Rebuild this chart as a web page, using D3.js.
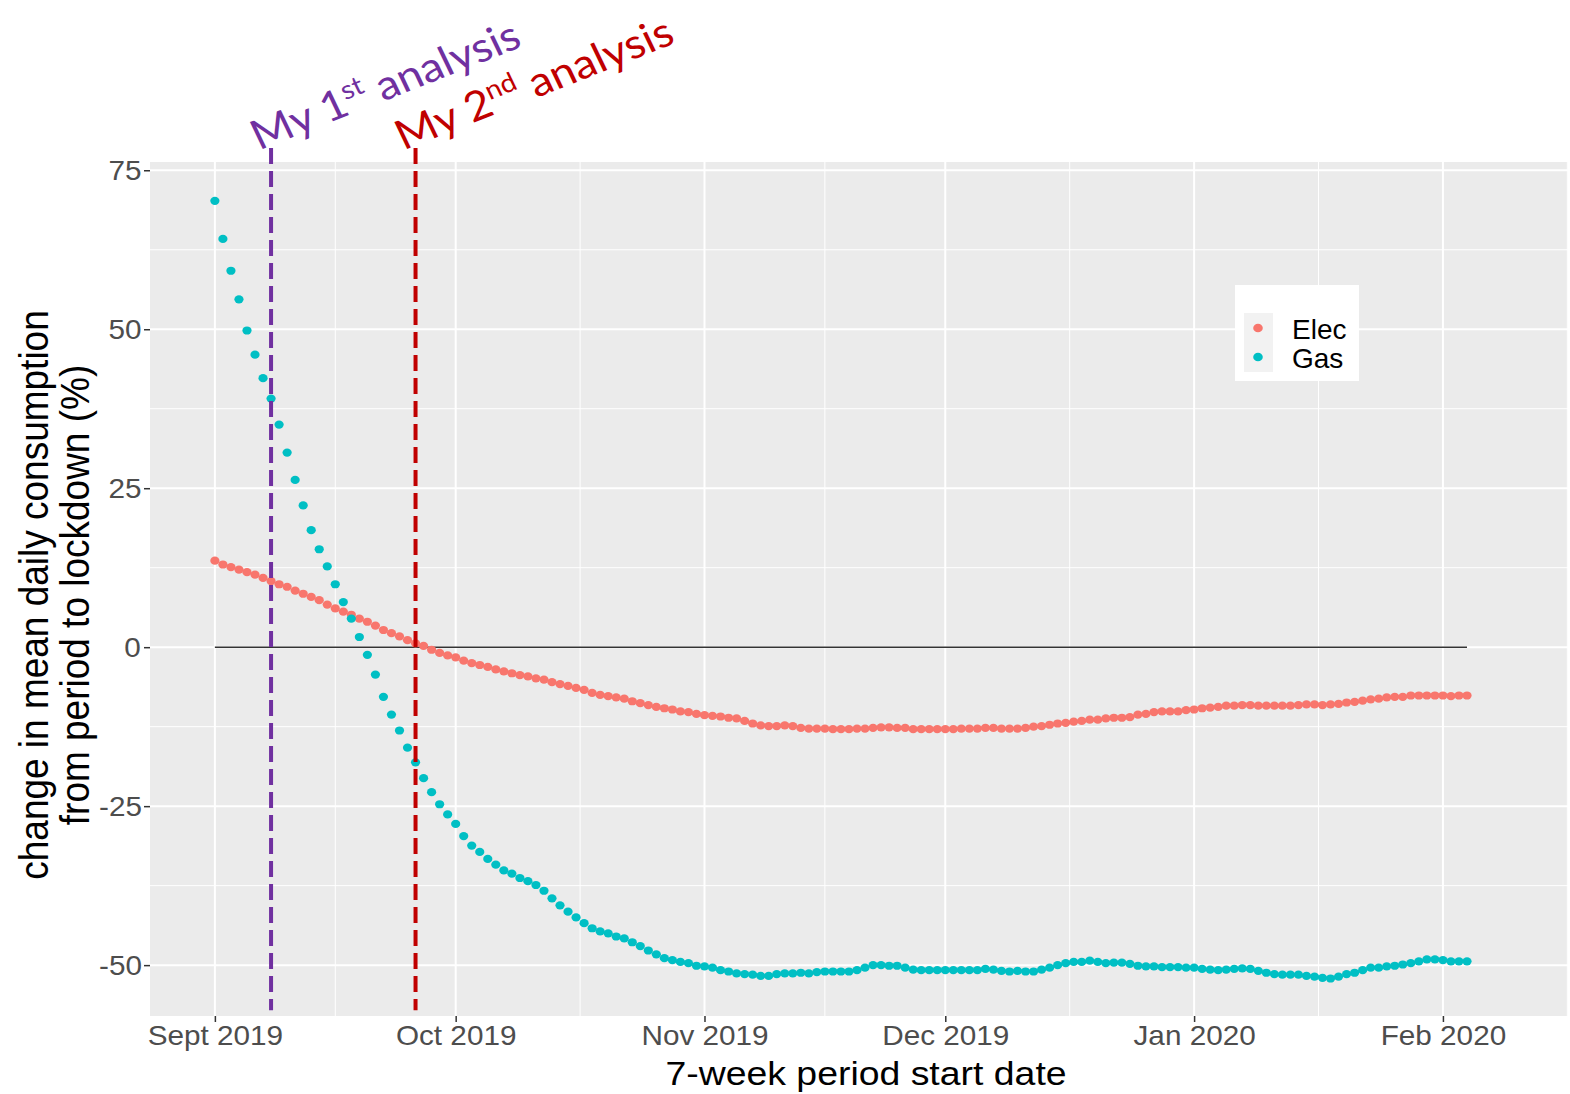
<!DOCTYPE html>
<html>
<head>
<meta charset="utf-8">
<script src="https://d3js.org/d3.v7.min.js"></script>
<style>
  body { margin: 0; background: #fff; }
  text { font-family: "Liberation Sans", Arial, sans-serif; }
  .wide { transform-box: fill-box; transform-origin: center; transform: scaleX(1.1); }
</style>
</head>
<body>
<div id="chart"></div>
<script>
// daily points, first one on 1 Sept 2019
const startDate = "2019-09-01";

const elec = [13.6, 13.0, 12.6, 12.2, 11.8, 11.4, 10.9, 10.4, 9.9, 9.5,
  8.9, 8.4, 7.9, 7.4, 6.7, 6.1, 5.6, 5.1, 4.5, 4.0,
  3.4, 2.7, 2.2, 1.7, 1.1, 0.6, 0.2, -0.4, -0.9, -1.3,
  -1.6, -2.1, -2.5, -2.8, -3.1, -3.5, -3.8, -4.1, -4.4, -4.6,
  -4.9, -5.1, -5.5, -5.8, -6.1, -6.4, -6.7, -7.2, -7.5, -7.7,
  -7.9, -8.1, -8.5, -8.8, -9.1, -9.4, -9.6, -9.8, -10.1, -10.2,
  -10.5, -10.7, -10.8, -10.9, -11.1, -11.2, -11.6, -12.0, -12.3, -12.4,
  -12.4, -12.3, -12.4, -12.7, -12.8, -12.8, -12.8, -12.9, -12.9, -12.9,
  -12.8, -12.8, -12.7, -12.6, -12.6, -12.7, -12.7, -12.9, -12.9, -12.9,
  -12.9, -12.9, -12.9, -12.8, -12.8, -12.8, -12.7, -12.7, -12.8, -12.8,
  -12.8, -12.7, -12.5, -12.4, -12.2, -12.0, -11.9, -11.7, -11.6, -11.4,
  -11.4, -11.2, -11.1, -11.1, -11.0, -10.6, -10.5, -10.2, -10.1, -10.1,
  -10.1, -9.9, -9.8, -9.6, -9.5, -9.4, -9.2, -9.2, -9.1, -9.1,
  -9.2, -9.2, -9.2, -9.2, -9.2, -9.1, -9.0, -9.0, -9.1, -9.0,
  -8.9, -8.7, -8.6, -8.4, -8.2, -8.1, -7.9, -7.8, -7.8, -7.6,
  -7.6, -7.6, -7.6, -7.6, -7.7, -7.6, -7.6];

const gas = [70.2, 64.2, 59.2, 54.7, 49.8, 46.0, 42.3, 39.1, 35.0, 30.6,
  26.3, 22.3, 18.4, 15.4, 12.7, 9.9, 7.1, 4.5, 1.6, -1.2,
  -4.3, -7.8, -10.6, -13.1, -15.8, -18.1, -20.6, -22.8, -24.7, -26.3,
  -27.8, -29.7, -31.2, -32.2, -33.3, -34.2, -35.1, -35.6, -36.3, -36.8,
  -37.4, -38.3, -39.5, -40.6, -41.6, -42.5, -43.4, -44.2, -44.7, -45.0,
  -45.5, -45.8, -46.4, -47.0, -47.7, -48.3, -48.9, -49.2, -49.5, -49.7,
  -50.1, -50.2, -50.4, -50.8, -51.0, -51.3, -51.4, -51.5, -51.7, -51.7,
  -51.4, -51.3, -51.3, -51.2, -51.3, -51.1, -51.0, -51.0, -51.0, -51.0,
  -50.8, -50.4, -50.0, -50.0, -50.1, -50.1, -50.4, -50.7, -50.8, -50.8,
  -50.8, -50.8, -50.8, -50.8, -50.8, -50.8, -50.6, -50.7, -50.9, -51.0,
  -50.9, -51.0, -51.0, -50.7, -50.4, -50.0, -49.7, -49.5, -49.5, -49.3,
  -49.5, -49.7, -49.6, -49.6, -49.8, -50.1, -50.2, -50.2, -50.3, -50.3,
  -50.3, -50.4, -50.4, -50.6, -50.7, -50.8, -50.7, -50.6, -50.5, -50.6,
  -50.9, -51.2, -51.4, -51.5, -51.5, -51.5, -51.7, -51.8, -52.0, -52.1,
  -51.8, -51.4, -51.2, -50.8, -50.4, -50.4, -50.2, -50.1, -49.9, -49.7,
  -49.4, -49.1, -49.1, -49.2, -49.4, -49.4, -49.4];

const monthTicks = ["2019-09-01", "2019-10-01", "2019-11-01", "2019-12-01", "2020-01-01", "2020-02-01"];
const monthLabels = ["Sept 2019", "Oct 2019", "Nov 2019", "Dec 2019", "Jan 2020", "Feb 2020"];
const yTicks = [-50, -25, 0, 25, 50, 75];

const seriesNames = ["Elec", "Gas"];
const seriesColors = ["#F8766D", "#00BFC4"];

const analysisDates = ["2019-09-08", "2019-09-26"];
const analysisOrdinals = ["1", "2"];
const analysisSuffix = ["st", "nd"];
const analysisColors = ["#7030A0", "#C00000"];

const W = 1570, H = 1094;
const margin = {top: 162, right: 2, bottom: 78, left: 150};
const width = W - margin.left - margin.right,
      height = H - margin.top - margin.bottom;

const parse = d3.utcParse("%Y-%m-%d");
const start = parse(startDate);
const days = elec.map((v, i) => d3.utcDay.offset(start, i));

const svg = d3.select("#chart").append("svg")
  .attr("width", W).attr("height", H);
const g = svg.append("g")
  .attr("transform", `translate(${margin.left},${margin.top})`);

// x: scale time, padded like ggplot
const x = d3.scaleUtc()
  .domain([d3.utcHour.offset(start, -194), d3.utcHour.offset(start, 4046)])
  .range([0, width]);
const y = d3.scaleLinear().domain([-58.0, 76.3]).range([height, 0]);

// panel
g.append("rect").attr("width", width).attr("height", height).attr("fill", "#EBEBEB");

const majorX = monthTicks.map(parse);
const minorX = [];
for (let i = 0; i < majorX.length; i++) {
  const a = majorX[i];
  const b = i < majorX.length - 1 ? majorX[i + 1] : new Date(+a + (a - majorX[i - 1]));
  minorX.push(new Date((+a + +b) / 2));
}
const minorY = d3.range(-62.5, 76, 12.5).filter(v => yTicks.indexOf(v) < 0);

const grid = g.append("g");
grid.selectAll(".mny").data(minorY).join("line")
  .attr("x1", 0).attr("x2", width)
  .attr("y1", d => y(d)).attr("y2", d => y(d))
  .attr("stroke", "#fff").attr("stroke-width", 1);
grid.selectAll(".mnx").data(minorX.filter(d => x(d) < width)).join("line")
  .attr("x1", d => x(d)).attr("x2", d => x(d))
  .attr("y1", 0).attr("y2", height)
  .attr("stroke", "#fff").attr("stroke-width", 1);
grid.selectAll(".mjy").data(yTicks).join("line")
  .attr("x1", 0).attr("x2", width)
  .attr("y1", d => y(d)).attr("y2", d => y(d))
  .attr("stroke", "#fff").attr("stroke-width", 2);
grid.selectAll(".mjx").data(majorX).join("line")
  .attr("x1", d => x(d)).attr("x2", d => x(d))
  .attr("y1", 0).attr("y2", height)
  .attr("stroke", "#fff").attr("stroke-width", 2);

// zero line across the data range
g.append("path")
  .datum(days)
  .attr("d", d3.line().x(d => x(d)).y(() => y(0)))
  .attr("stroke", "#333").attr("stroke-width", 1.6).attr("fill", "none");

// points (the picture is a bit wider than tall, so ellipses)
[elec, gas].forEach(function(vals, k) {
  g.append("g").selectAll("ellipse")
    .data(vals)
    .join("ellipse")
    .attr("cx", (d, i) => x(days[i]))
    .attr("cy", d => y(d))
    .attr("rx", 4.6).attr("ry", 4.1)
    .attr("fill", seriesColors[k]);
});

// dashed analysis lines + labels
analysisDates.forEach(function(ds, k) {
  const xd = x(parse(ds));
  g.append("line")
    .attr("x1", xd).attr("x2", xd)
    .attr("y1", y(78.5)).attr("y2", y(-57.1))
    .attr("stroke", analysisColors[k]).attr("stroke-width", 4)
    .attr("stroke-dasharray", "16,7");
  const t = g.append("text")
    .attr("transform", `translate(${xd - 12},${y(78.1)}) scale(1.1,1) rotate(-23.5)`)
    .attr("fill", analysisColors[k])
    .style("font-family", "Lato, 'Open Sans', sans-serif")
    .style("font-size", "41px");
  t.append("tspan").text("My " + analysisOrdinals[k]);
  t.append("tspan").attr("dy", -15).style("font-size", "26px").text(analysisSuffix[k]);
  t.append("tspan").attr("dy", 15).text(" analysis");
});

// axes
const yAxis = g.append("g")
  .call(d3.axisLeft(y).tickValues(yTicks).tickSize(6).tickPadding(4)
    .tickFormat(d => String(d)));
yAxis.select(".domain").remove();
yAxis.selectAll("line").attr("stroke", "#333").attr("stroke-width", 1.5);
yAxis.selectAll("text").attr("fill", "#4D4D4D").style("font-size", "27px")
  .attr("class", "wide").attr("dy", "0.36em");

const xAxis = g.append("g")
  .attr("transform", `translate(0,${height})`)
  .call(d3.axisBottom(x).tickValues(majorX).tickSize(6).tickPadding(4)
    .tickFormat((d, i) => monthLabels[i]));
xAxis.select(".domain").remove();
xAxis.selectAll("line").attr("stroke", "#333").attr("stroke-width", 1.5);
xAxis.selectAll("text").attr("fill", "#4D4D4D").style("font-size", "27px").attr("class", "wide");

// axis titles
svg.append("text")
  .attr("x", margin.left + width / 2 + 7).attr("y", 1085)
  .attr("text-anchor", "middle").attr("class", "wide")
  .style("font-size", "34px").attr("fill", "#000")
  .text("7-week period start date");

const yt = svg.append("text")
  .attr("transform", `translate(48,${margin.top + height / 2 + 6}) scale(1.1,1) rotate(-90)`)
  .attr("text-anchor", "middle").style("font-size", "37px").attr("fill", "#000");
yt.append("tspan").attr("x", 0).attr("dy", 0).text("change in mean daily consumption");
yt.append("tspan").attr("x", 0).attr("dy", 37).text("from period to lockdown (%)");

// legend
const lg = svg.append("g").attr("transform", "translate(1235,285)");
lg.append("rect").attr("width", 124).attr("height", 96).attr("fill", "#fff");
lg.append("rect").attr("x", 9).attr("y", 28).attr("width", 29).attr("height", 59).attr("fill", "#F2F2F2");
seriesNames.forEach(function(n, k) {
  lg.append("ellipse").attr("cx", 23).attr("cy", 43 + k * 29).attr("rx", 4.8).attr("ry", 4.3)
    .attr("fill", seriesColors[k]);
  lg.append("text").attr("x", 57).attr("y", 54 + k * 29).style("font-size", "28px")
    .attr("fill", "#000").text(n);
});
</script>
</body>
</html>
